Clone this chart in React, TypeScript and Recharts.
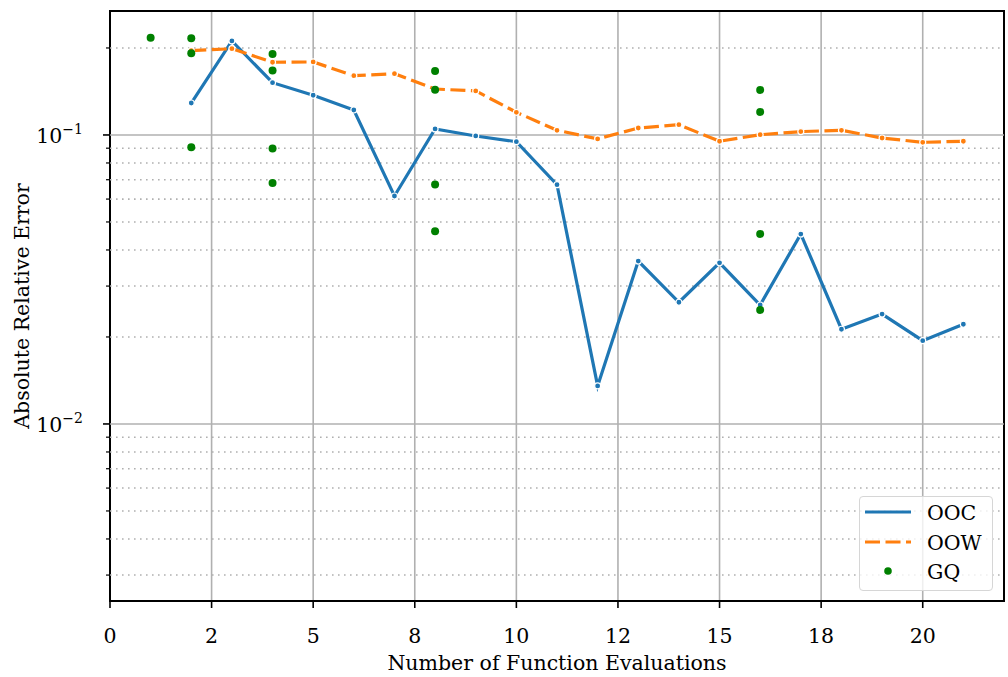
import {
  ComposedChart,
  Line,
  Scatter,
  XAxis,
  YAxis,
  CartesianGrid,
  ReferenceLine,
  ReferenceArea,
  Legend,
} from "recharts";

const FONT = "'DejaVu Serif', serif";
const FONT_SIZE = 20.5;

// evaluations and absolute relative error per method
const evaluations = [2, 3, 4, 5, 6, 7, 8, 9, 10, 11, 12, 13, 14, 15, 16, 17, 18, 19, 20, 21];
const oocError = [
  0.129, 0.2115, 0.1517, 0.1372, 0.122, 0.0615, 0.1049, 0.0992, 0.0948, 0.0673,
  0.01354, 0.0366, 0.02637, 0.0361, 0.0258, 0.0454, 0.02127, 0.024, 0.01942, 0.02213,
];
const oowError = [
  0.1957, 0.1988, 0.1785, 0.1789, 0.1604, 0.163, 0.1442, 0.142, 0.1198, 0.1038,
  0.0969, 0.1057, 0.1085, 0.0951, 0.1002, 0.1027, 0.1038, 0.0976, 0.0943, 0.0951,
];
const gqEvaluations = [1, 2, 2, 2, 4, 4, 4, 4, 8, 8, 8, 8, 16, 16, 16, 16];
const gqError = [
  0.2171, 0.2161, 0.1917, 0.0907, 0.1907, 0.1671, 0.0897, 0.0682, 0.1665, 0.1434,
  0.0674, 0.0464, 0.1431, 0.1201, 0.0454, 0.0248,
];

const xDomain = [0, 22];
const xTicks = [0, 2.5, 5, 7.5, 10, 12.5, 15, 17.5, 20];
const xTickLabels = ["0", "2", "5", "8", "10", "12", "15", "18", "20"];

const yDomain = [0.00244, 0.2685];
const majorYTicks = [0.01, 0.1];
const majorYExponents = ["\u22122", "\u22121"];
const minorYTicks = [
  0.003, 0.004, 0.005, 0.006, 0.007, 0.008, 0.009,
  0.02, 0.03, 0.04, 0.05, 0.06, 0.07, 0.08, 0.09, 0.2,
];

const seriesNames = ["OOC", "OOW", "GQ"];

const oocData = evaluations.map((x, i) => ({ x, y: oocError[i] }));
const oowData = evaluations.map((x, i) => ({ x, y: oowError[i] }));
const gqData = gqEvaluations.map((x, i) => ({ x, y: gqError[i] }));

const BLUE = "#1f77b4";
const ORANGE = "#ff7f0e";
const GREEN = "#008000";
const GRID = "#b0b0b0";
const OOW_DASH = "15 5.5";

const textStyle = { fontFamily: FONT, fontSize: FONT_SIZE, fill: "#000" };

function XTick({ x, y, payload }: any) {
  const label = xTickLabels[xTicks.indexOf(payload.value)];
  return (
    <g>
      <line x1={x} x2={x} y1={y} y2={y + 7} stroke="#000" strokeWidth={1.6} />
      <text x={x} y={y + 42} textAnchor="middle" style={textStyle}>
        {label}
      </text>
    </g>
  );
}

function YTick({ x, y, payload }: any) {
  const idx = majorYTicks.indexOf(payload.value);
  if (idx < 0) {
    return <line x1={x - 4} x2={x} y1={y} y2={y} stroke="#000" strokeWidth={1.2} />;
  }
  return (
    <g>
      <line x1={x - 7} x2={x} y1={y} y2={y} stroke="#000" strokeWidth={1.6} />
      <text x={x - 27} y={y + 8} textAnchor="end" style={textStyle}>
        10
        <tspan dy={-9} style={{ fontSize: 14 }}>
          {majorYExponents[idx]}
        </tspan>
      </text>
    </g>
  );
}

function LegendBox() {
  return (
    <div
      style={{
        width: 134,
        height: 95,
        boxSizing: "border-box",
        border: "1px solid #d6d6d6",
        borderRadius: 4,
        background: "rgba(255,255,255,0.8)",
        position: "relative",
      }}
    >
      <svg width={134} height={95} style={{ position: "absolute", left: -1, top: -1 }}>
        <line x1={6} x2={52} y1={16} y2={16} stroke={BLUE} strokeWidth={3.2} />
        <line x1={6} x2={52} y1={46} y2={46} stroke={ORANGE} strokeWidth={3.2} strokeDasharray={OOW_DASH} />
        <circle cx={29} cy={75} r={3.8} fill={GREEN} />
        {seriesNames.map((name, i) => (
          <text key={name} x={68} y={24 + i * 29.5} fontFamily={FONT} fontSize={FONT_SIZE} fill="#000">
            {name}
          </text>
        ))}
      </svg>
    </div>
  );
}

export default function App() {
  return (
    <div style={{ position: "absolute", left: 0, top: 0, background: "#fff" }}>
      <ComposedChart width={1008} height={677} margin={{ top: 11, right: 4, bottom: 0, left: 0 }}>
        <CartesianGrid horizontal={false} stroke={GRID} strokeWidth={1.6} />
        {minorYTicks.map((v) => (
          <ReferenceLine key={v} y={v} stroke={GRID} strokeWidth={1.6} strokeDasharray="1.6 4.4" />
        ))}
        {majorYTicks.map((v) => (
          <ReferenceLine key={v} y={v} stroke={GRID} strokeWidth={1.6} />
        ))}
        <XAxis
          dataKey="x"
          type="number"
          domain={xDomain}
          ticks={xTicks}
          interval={0}
          allowDataOverflow
          height={76}
          axisLine={false}
          tickLine={false}
          tickSize={0}
          tickMargin={0}
          tick={<XTick />}
          label={{
            content: ({ viewBox }: any) => (
              <text
                x={viewBox.x + viewBox.width / 2}
                y={viewBox.y + 69}
                textAnchor="middle"
                style={textStyle}
              >
                Number of Function Evaluations
              </text>
            ),
          }}
        />
        <YAxis
          type="number"
          scale="log"
          domain={yDomain}
          ticks={[...minorYTicks, ...majorYTicks].sort((a, b) => a - b)}
          interval={0}
          allowDataOverflow
          width={110}
          axisLine={false}
          tickLine={false}
          tickSize={0}
          tickMargin={0}
          tick={<YTick />}
          label={{
            content: ({ viewBox }: any) => (
              <text
                transform={`translate(29, ${viewBox.y + viewBox.height / 2}) rotate(-90)`}
                textAnchor="middle"
                style={textStyle}
              >
                Absolute Relative Error
              </text>
            ),
          }}
        />
        <Line
          data={oocData}
          dataKey="y"
          name={seriesNames[0]}
          stroke={BLUE}
          strokeWidth={3.2}
          dot={{ r: 3, fill: BLUE, stroke: "#fff", strokeWidth: 1.2 }}
          activeDot={false}
          isAnimationActive={false}
        />
        <Line
          data={oowData}
          dataKey="y"
          name={seriesNames[1]}
          stroke={ORANGE}
          strokeWidth={3.2}
          strokeDasharray={OOW_DASH}
          dot={{ r: 3, fill: ORANGE, stroke: "#fff", strokeWidth: 1.2, strokeDasharray: "0" }}
          activeDot={false}
          isAnimationActive={false}
        />
        {/* GQ points sit above both line series */}
        <Scatter
          data={gqData}
          dataKey="y"
          name={seriesNames[2]}
          isAnimationActive={false}
          zIndex={1000}
          shape={(p: any) => <circle cx={p.cx} cy={p.cy} r={4} fill={GREEN} />}
        />
        <ReferenceArea
          x1={xDomain[0]}
          x2={xDomain[1]}
          y1={yDomain[0]}
          y2={yDomain[1]}
          fill="none"
          stroke="#000"
          strokeWidth={2}
          ifOverflow="visible"
        />
        <Legend
          layout="vertical"
          align="center"
          verticalAlign="middle"
          content={() => <LegendBox />}
          wrapperStyle={{ left: 859, top: 496, right: "auto", bottom: "auto", width: 134, height: 95 }}
        />
      </ComposedChart>
    </div>
  );
}
